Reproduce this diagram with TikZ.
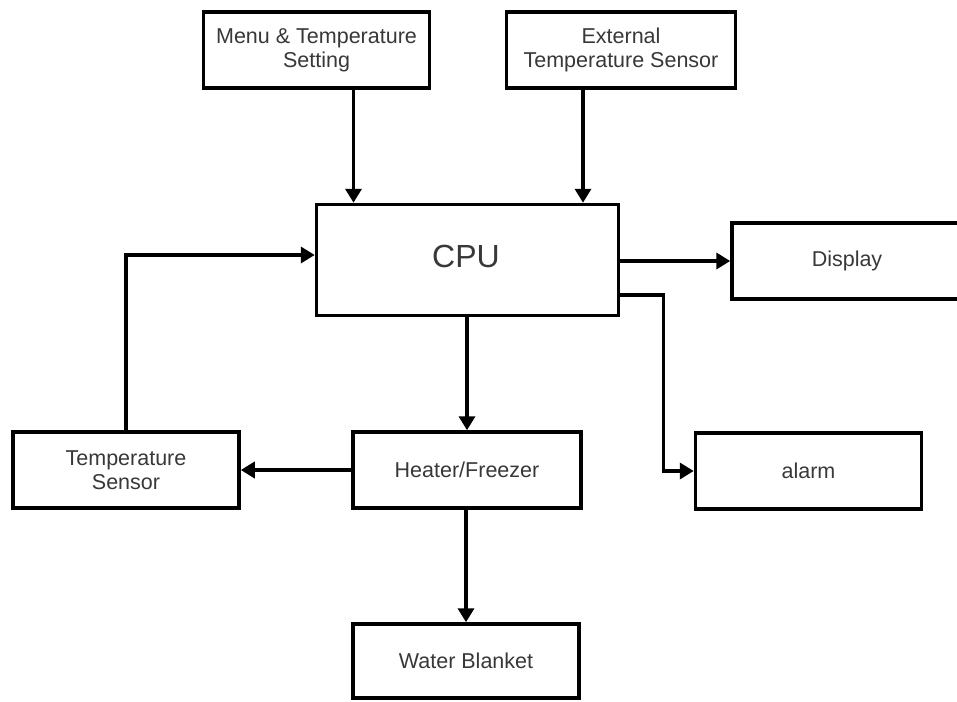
\documentclass[tikz,border=0pt]{standalone}
\usepackage{fontspec}
\setmainfont{Liberation Sans}
\usepackage{xcolor}
\usepackage{tikz}
\usetikzlibrary{arrows.meta}

\begin{document}
\begin{tikzpicture}[x=1pt,y=-1pt,
  block/.style={draw=black,line width=3.5pt,fill=white,text=black!78,align=center,
    inner sep=0pt,minimum height=76pt,font=\fontsize{21.5}{24}\selectfont},
  arr/.style={line width=3.5pt,-{Triangle[length=14pt,width=16pt]}}]
\useasboundingbox (0,0) rectangle (957,701);
\node[block,minimum width=226pt] (menu) at (316.5,50) {Menu \& Temperature\\Setting};
\node[block,minimum width=229pt] (extsens) at (621,50) {External\\Temperature Sensor};
\node[block,minimum width=302pt,minimum height=111pt] (cpu) at (467.5,260) {};
\node[text=black!78,font=\fontsize{32}{36}\selectfont] (cpulabel) at (466,256.5) {CPU};
\node[block,minimum width=230pt] (display) at (847,261) {Display};
\node[block,minimum width=226pt] (tempsens) at (126,470) {Temperature\\Sensor};
\node[block,minimum width=228pt] (heater) at (467,470) {Heater/Freezer};
\node[block,minimum width=226pt] (alarm) at (808.5,471) {alarm};
\node[block,minimum width=226pt,minimum height=74pt] (blanket) at (466,661) {Water Blanket};

\draw[arr] ([xshift=37pt]menu.south) -- ([xshift=37pt]menu.south |- cpu.north);
\draw[arr] ([xshift=-38pt]extsens.south) -- ([xshift=-38pt]extsens.south |- cpu.north);
\draw[arr] (cpu.east |- display.west) -- (display.west);
\draw[arr] ([yshift=-35pt]cpu.east) -- ++(43,0) |- (alarm.west);
\draw[arr] (tempsens.north) |- ([yshift=5pt]cpu.west);
\draw[arr] (cpu.south -| heater.north) -- (heater.north);
\draw[arr] (heater.west) -- (tempsens.east);
\draw[arr] (heater.south -| blanket.north) -- (blanket.north);
\end{tikzpicture}
\end{document}
